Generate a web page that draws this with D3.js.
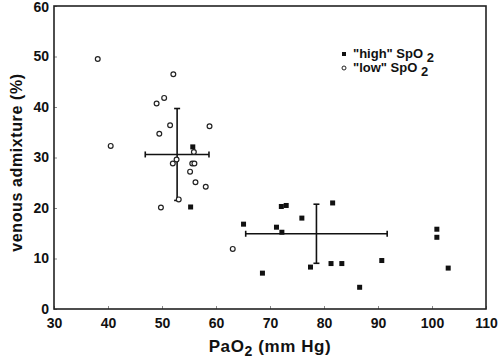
<!DOCTYPE html>
<html>
<head>
<meta charset="utf-8">
<script src="https://cdn.jsdelivr.net/npm/d3@7"></script>
<style>
  body { margin: 0; background: #fff; }
  text { font-family: "Liberation Sans", Arial, sans-serif; font-weight: bold; fill: #111; }
</style>
</head>
<body>
<script>
const width = 500, height = 361;
const margin = { top: 6, right: 14, bottom: 52, left: 54 };

// "low" SpO2 (open circles): [PaO2, venous admixture]
const lowX = [38.1, 52.1, 49.0, 50.4, 51.5, 58.8, 49.5, 40.5, 55.9, 52.7, 52.0, 55.6, 56.0, 55.2, 56.2, 58.1, 53.1, 49.8, 63.1];
const lowY = [49.5, 46.5, 40.7, 41.8, 36.4, 36.2, 34.7, 32.3, 31.1, 29.6, 28.8, 28.8, 28.8, 27.2, 25.1, 24.2, 21.7, 20.1, 11.9];

// "high" SpO2 (filled squares)
const highX = [55.7, 55.3, 65.1, 72.1, 73.0, 71.2, 72.2, 75.9, 81.6, 68.6, 77.5, 81.3, 83.3, 90.7, 86.6, 100.9, 100.9, 103.0];
const highY = [32.1, 20.2, 16.8, 20.3, 20.5, 16.2, 15.2, 18.0, 21.0, 7.1, 8.3, 9.0, 9.0, 9.6, 4.3, 15.8, 14.2, 8.1];

// group means and SD bars
const meanX = [52.8, 78.6];
const meanY = [30.6, 14.9];
const sdX = [5.9, 13.1];
const sdY = [9.1, 5.85];

const xTicks = [30, 40, 50, 60, 70, 80, 90, 100, 110];
const yTicks = [0, 10, 20, 30, 40, 50, 60];

const svg = d3.select("body").append("svg")
  .attr("width", width)
  .attr("height", height);

const x = d3.scaleLinear().domain([30, 110]).range([margin.left, width - margin.right]);
const y = d3.scaleLinear().domain([0, 60]).range([height - margin.bottom, margin.top]);

const styleTicks = g => {
  g.select(".domain").remove();
  g.selectAll(".tick line").attr("stroke", "#888");
  g.selectAll(".tick text")
    .attr("font-size", 14)
    .attr("font-family", "Liberation Sans, Arial, sans-serif")
    .attr("font-weight", "bold")
    .attr("fill", "#111");
};

// axes (ticks pointing inward)
svg.append("g")
  .attr("transform", `translate(0,${height - margin.bottom})`)
  .call(d3.axisBottom(x).tickValues(xTicks).tickSizeInner(-3).tickSizeOuter(0).tickPadding(9))
  .call(styleTicks);

svg.append("g")
  .attr("transform", `translate(${margin.left},0)`)
  .call(d3.axisLeft(y).tickValues(yTicks).tickSizeInner(-3).tickSizeOuter(0).tickPadding(5))
  .call(styleTicks)
  .call(g => g.selectAll(".tick text").filter(d => d === 60).attr("dy", "0.42em"));

// frame
svg.append("rect")
  .attr("x", x(30)).attr("y", y(60))
  .attr("width", x(110) - x(30)).attr("height", y(0) - y(60))
  .attr("fill", "none").attr("stroke", "#222").attr("stroke-width", 1.6);

// SD crosses
const cap = 3;
const crosses = svg.append("g").attr("stroke", "#111").attr("stroke-width", 1.6);
meanX.forEach((mx, i) => {
  const my = meanY[i];
  crosses.append("line").attr("x1", x(mx - sdX[i])).attr("x2", x(mx + sdX[i])).attr("y1", y(my)).attr("y2", y(my));
  crosses.append("line").attr("x1", x(mx)).attr("x2", x(mx)).attr("y1", y(my - sdY[i])).attr("y2", y(my + sdY[i]));
  [mx - sdX[i], mx + sdX[i]].forEach(v =>
    crosses.append("line").attr("x1", x(v)).attr("x2", x(v)).attr("y1", y(my) - cap).attr("y2", y(my) + cap));
  [my - sdY[i], my + sdY[i]].forEach(v =>
    crosses.append("line").attr("x1", x(mx) - cap).attr("x2", x(mx) + cap).attr("y1", y(v)).attr("y2", y(v)));
});

// low points
svg.append("g")
  .selectAll("circle")
  .data(d3.zip(lowX, lowY))
  .join("circle")
  .attr("cx", d => x(d[0]))
  .attr("cy", d => y(d[1]))
  .attr("r", 2.4)
  .attr("fill", "#fff")
  .attr("stroke", "#222")
  .attr("stroke-width", 1.2);

// high points
const sq = 5;
svg.append("g")
  .selectAll("rect")
  .data(d3.zip(highX, highY))
  .join("rect")
  .attr("x", d => x(d[0]) - sq / 2)
  .attr("y", d => y(d[1]) - sq / 2)
  .attr("width", sq)
  .attr("height", sq)
  .attr("fill", "#111");

// legend
const legend = svg.append("g").attr("transform", "translate(344,0)");
legend.append("rect").attr("x", -2).attr("y", 52).attr("width", 4).attr("height", 4).attr("fill", "#111");
legend.append("circle").attr("cx", 0).attr("cy", 68).attr("r", 2).attr("fill", "#fff").attr("stroke", "#222");
const l1 = legend.append("text").attr("x", 9).attr("y", 58).attr("font-size", 13);
l1.append("tspan").text("\"high\" SpO ");
l1.append("tspan").attr("dy", 4).text("2");
const l2 = legend.append("text").attr("x", 9).attr("y", 72).attr("font-size", 13);
l2.append("tspan").text("\"low\" SpO ");
l2.append("tspan").attr("dy", 4).text("2");

// axis titles
const xt = svg.append("text")
  .attr("x", (x(30) + x(110)) / 2)
  .attr("y", 352)
  .attr("text-anchor", "middle")
  .attr("font-size", 17)
  .attr("letter-spacing", 0.6);
xt.append("tspan").text("PaO");
xt.append("tspan").attr("dy", 4).attr("font-size", 14).text("2");
xt.append("tspan").attr("dy", -4).text(" (mm Hg)");

svg.append("text")
  .attr("transform", `translate(22,${(y(0) + y(60)) / 2 + 5}) rotate(-90)`)
  .attr("text-anchor", "middle")
  .attr("font-size", 16)
  .attr("letter-spacing", 0.6)
  .text("venous admixture (%)");
</script>
</body>
</html>
